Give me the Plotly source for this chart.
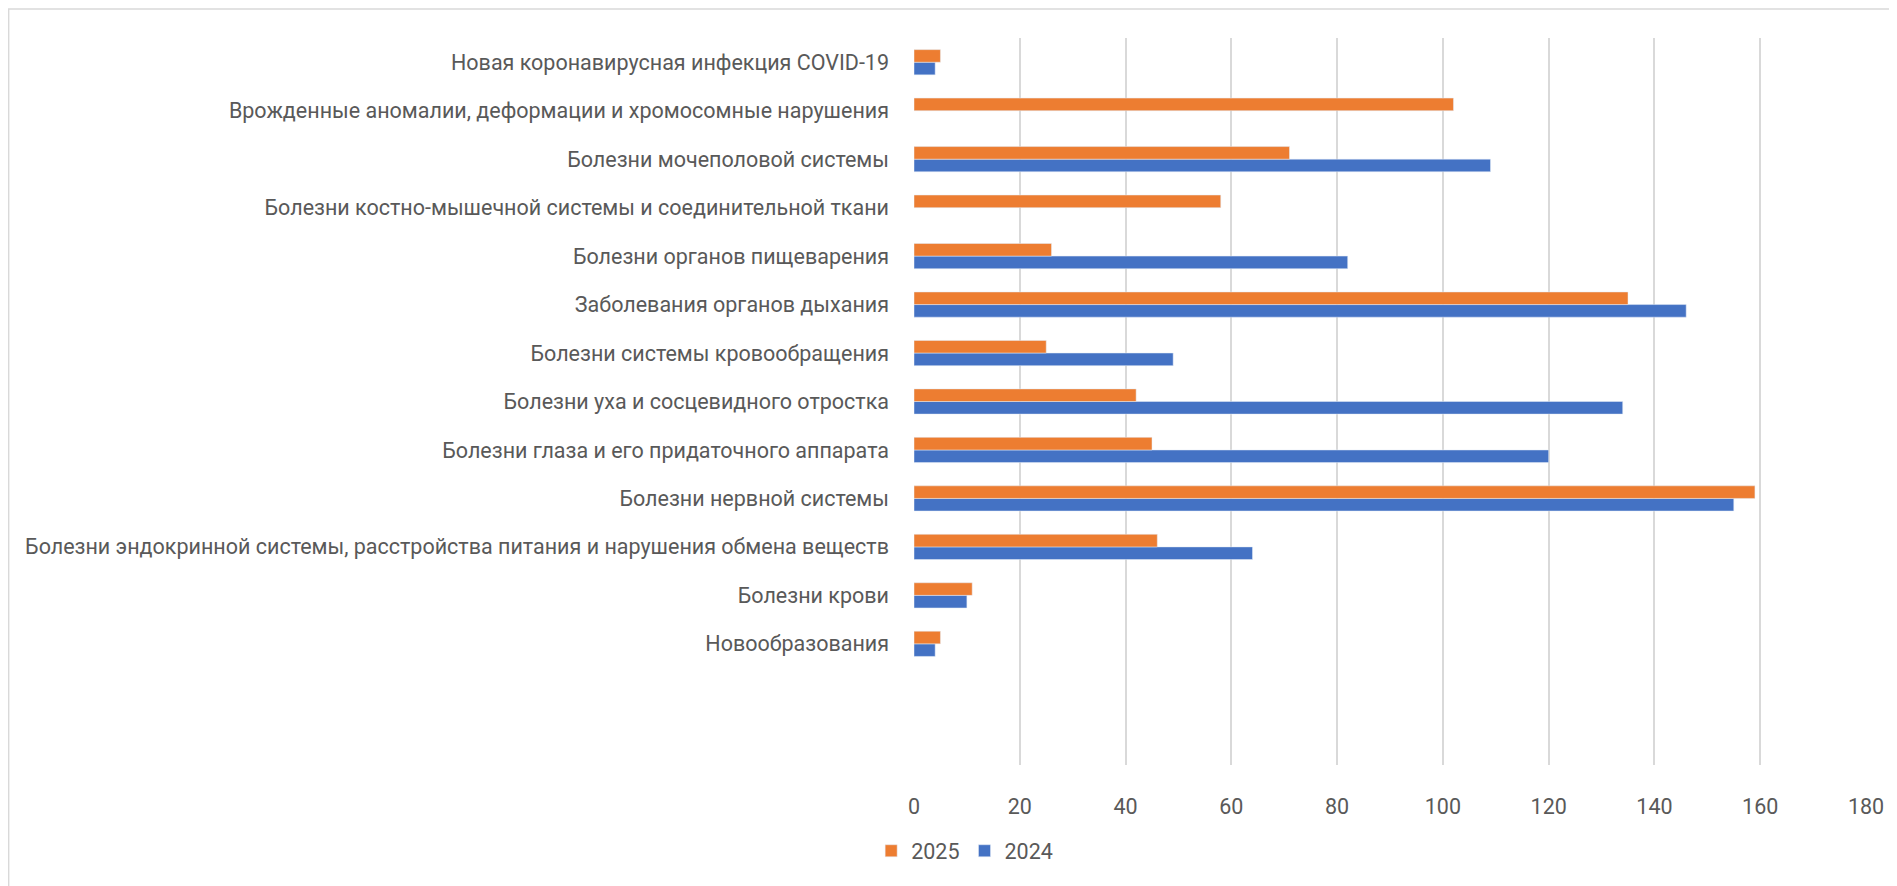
import plotly.graph_objects as go

# categories from bottom to top (plotly draws the first category at the bottom)
categories = [
    "Новообразования",
    "Болезни крови",
    "Болезни эндокринной системы, расстройства питания и нарушения обмена веществ",
    "Болезни нервной системы",
    "Болезни глаза и его придаточного аппарата",
    "Болезни уха и сосцевидного отростка",
    "Болезни системы кровообращения",
    "Заболевания органов дыхания",
    "Болезни органов пищеварения",
    "Болезни костно-мышечной системы и соединительной ткани",
    "Болезни мочеполовой системы",
    "Врожденные аномалии, деформации и хромосомные нарушения",
    "Новая коронавирусная инфекция COVID-19",
]
values_2024 = [4, 10, 64, 155, 120, 134, 49, 146, 82, None, 109, None, 4]
values_2025 = [5, 11, 46, 159, 45, 42, 25, 135, 26, 58, 71, 102, 5]
x_ticks = [0, 20, 40, 60, 80, 100, 120, 140, 160, 180]

FONT = "Roboto"
GREY = "#595959"

fig = go.Figure()
fig.add_trace(go.Bar(y=categories, x=values_2024, name="2024", orientation="h",
                     marker=dict(color="#4472C4")))
fig.add_trace(go.Bar(y=categories, x=values_2025, name="2025", orientation="h",
                     marker=dict(color="#ED7D31")))

# page body has an 8px margin, so the figure is a bit smaller than the window
fig.update_layout(
    width=1889, height=878,
    barmode="group", bargap=0.48, bargroupgap=0,
    plot_bgcolor="white", paper_bgcolor="white",
    margin=dict(l=906, r=31, t=30, b=121, autoexpand=False),
    font=dict(family=FONT, size=21.5, color=GREY),
    legend=dict(orientation="h", traceorder="reversed", x=-0.045, xanchor="left",
                y=-0.118, yanchor="middle",
                bgcolor="rgba(0,0,0,0)", font=dict(size=21.5, color=GREY),
                itemwidth=30),
    showlegend=True,
)
fig.update_xaxes(range=[0, 180], tickvals=x_ticks, showgrid=True, gridcolor="#d9d9d9",
                 gridwidth=1.5, zeroline=False, showline=False, ticks="",
                 ticklabelstandoff=26, automargin=False)
fig.update_yaxes(type="category", categoryorder="array", categoryarray=categories,
                 range=[-2.5, 12.5], showgrid=False, zeroline=False, showline=False,
                 ticks="", ticklabelstandoff=24, automargin=False)

# light outer frame of the chart
fig.add_shape(type="rect", xref="paper", yref="paper", x0=-0.951, x1=1.2, y0=-0.3, y1=1.04,
              line=dict(color="#d9d9d9", width=1.5), fillcolor="rgba(0,0,0,0)", layer="below")

fig.write_html("out.html")
